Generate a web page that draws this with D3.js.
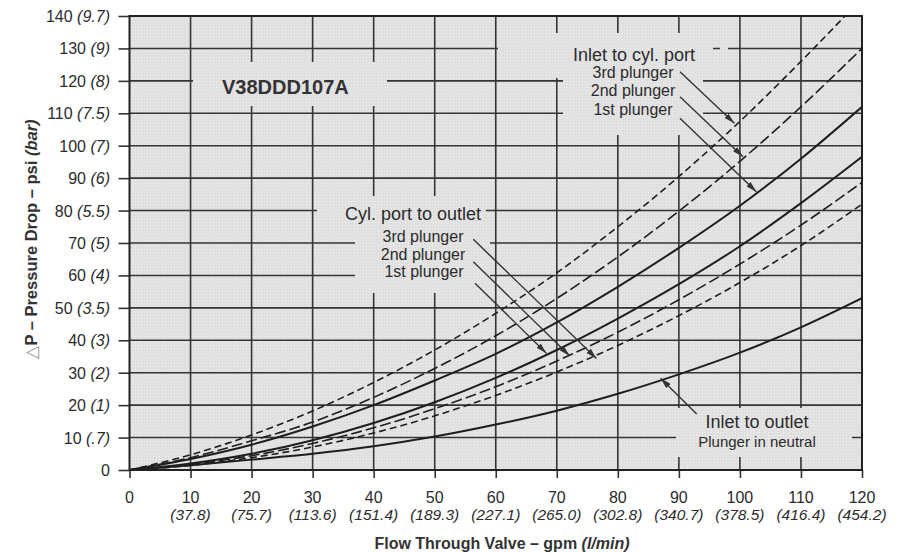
<!DOCTYPE html>
<html><head><meta charset="utf-8">
<script src="https://cdn.jsdelivr.net/npm/d3@7"></script>
<style>
html,body{margin:0;padding:0;background:#fff;}
svg{display:block;font-family:"Liberation Sans",Arial,Helvetica,sans-serif;}
</style></head><body>
<svg id="chart" width="904" height="552"></svg>
<script>
// ---------- data ----------
const flowGpm = [0,10,20,30,40,50,60,70,80,90,100,110,120];
const xTickValues = [0,10,20,30,40,50,60,70,80,90,100,110,120];
const xTickMetric = ["","(37.8)","(75.7)","(113.6)","(151.4)","(189.3)","(227.1)","(265.0)","(302.8)","(340.7)","(378.5)","(416.4)","(454.2)"];
const yTickValues = [0,10,20,30,40,50,60,70,80,90,100,110,120,130,140];
const yTickMetric = ["","(.7)","(1)","(2)","(3)","(3.5)","(4)","(5)","(5.5)","(6)","(7)","(7.5)","(8)","(9)","(9.7)"];

// Inlet to cyl. port
const inletCyl3rd = [0,4.7,10.8,18.2,27,37,48.3,60.8,75,90.5,107.5,126,145.5];
const inletCyl2nd = [0,3.8,9,14.8,22.4,31.3,41.4,52.9,65.7,79.8,95.2,112,130];
const inletCyl1st = [0,3.4,7.8,13.4,20,27.6,35.8,45.5,56.5,68.5,81.5,96,112];
// Cyl. port to outlet
const cylOut1st = [0,2,5,9.2,14.5,20.9,28.4,37,46.7,57.3,69,82.3,96.6];
const cylOut2nd = [0,1.7,4.4,8.2,13,18.9,25.7,33.6,42.5,52.5,63.5,75.5,88.7];
const cylOut3rd = [0,1.4,3.8,7.1,11.4,16.7,23,30.2,38.4,47.6,57.8,69.2,82];
// Inlet to outlet (plunger in neutral)
const inletOutlet = [0,1.5,3.2,5,7.3,10.3,14,18.3,23.5,29.5,36.2,44,53];

// ---------- drawing ----------
const svg = d3.select("#chart");
const x = d3.scaleLinear().domain([0,120]).range([129.5,862]);
const y = d3.scaleLinear().domain([0,140]).range([470,16]);
const ink = "#2b2b2b";
const bg = "#e0e0e0";

const defs = svg.append("defs");
defs.append("clipPath").attr("id","plot").append("rect")
  .attr("x",x(0)).attr("y",y(140)).attr("width",x(120)-x(0)).attr("height",y(0)-y(140));
const pat = defs.append("pattern").attr("id","dots").attr("patternUnits","userSpaceOnUse")
  .attr("width",3).attr("height",3);
pat.append("rect").attr("width",3).attr("height",3).attr("fill",bg);
pat.append("rect").attr("width",1).attr("height",1).attr("fill","#f0f0f0");
defs.append("marker").attr("id","arr").attr("markerUnits","userSpaceOnUse")
  .attr("viewBox","0 0 11 6").attr("refX",11).attr("refY",3)
  .attr("markerWidth",11).attr("markerHeight",6).attr("orient","auto")
  .append("path").attr("d","M0,0 L11,3 L0,6 Z").attr("fill","#333");

// plot background
svg.append("rect").attr("x",x(0)).attr("y",y(140))
  .attr("width",x(120)-x(0)).attr("height",y(0)-y(140)).attr("fill","url(#dots)");

// grid
const grid = svg.append("g").attr("stroke","#353535").attr("stroke-width",1.6);
grid.selectAll("line.h").data(yTickValues.filter(d=>d>0&&d<140)).join("line")
  .attr("x1",x(0)).attr("x2",x(120)).attr("y1",d=>y(d)).attr("y2",d=>y(d));
grid.selectAll("line.v").data(xTickValues.filter(d=>d>0&&d<120)).join("line")
  .attr("y1",y(140)).attr("y2",y(0)).attr("x1",d=>x(d)).attr("x2",d=>x(d));

// gaps in the grid behind the labels
const gaps = [
  [193,62,194,44],     // title
  [498,33,215,45],     // Inlet to cyl. port
  [720,33,8,45],
  [563,66,140,69],
  [317,196,169,32],    // Cyl. port to outlet
  [355,226,135,67],
  [676,408,176,49]     // Inlet to outlet
];
svg.append("g").selectAll("rect").data(gaps).join("rect")
  .attr("x",d=>d[0]).attr("y",d=>d[1]).attr("width",d=>d[2]).attr("height",d=>d[3])
  .attr("fill","url(#dots)");

// axes (ticks)
const xAxis = svg.append("g").attr("transform",`translate(0,${y(0)})`)
  .call(d3.axisBottom(x).tickValues(xTickValues).tickSize(8).tickSizeOuter(0).tickFormat(""));
xAxis.select(".domain").remove();
xAxis.selectAll(".tick line").attr("stroke","#333").attr("stroke-width",1.6);
const yAxis = svg.append("g").attr("transform",`translate(${x(0)},0)`)
  .call(d3.axisLeft(y).tickValues(yTickValues).tickSize(11).tickSizeOuter(0).tickFormat(""));
yAxis.select(".domain").remove();
yAxis.selectAll(".tick line").attr("stroke","#333").attr("stroke-width",1.6);

// frame
svg.append("rect").attr("x",x(0)).attr("y",y(140))
  .attr("width",x(120)-x(0)).attr("height",y(0)-y(140))
  .attr("fill","none").attr("stroke","#222").attr("stroke-width",2);

// tick labels
const xl = svg.append("g").attr("fill",ink).attr("text-anchor","middle");
xl.selectAll("text.n").data(xTickValues).join("text").attr("class","n")
  .attr("x",d=>x(d)).attr("y",503).attr("font-size",16).text(d=>d);
xl.selectAll("text.m").data(xTickValues).join("text").attr("class","m")
  .attr("x",d=>x(d)).attr("y",520).attr("font-size",15.5).attr("font-style","italic")
  .text((d,i)=>xTickMetric[i]);
const yl = svg.append("g").attr("fill",ink).attr("text-anchor","end").attr("font-size",16);
yl.selectAll("text").data(yTickValues).join("text")
  .attr("x",110).attr("y",d=>y(d)+6)
  .each(function(d,i){
    const t = d3.select(this);
    t.append("tspan").text(d);
    if (yTickMetric[i]) t.append("tspan").attr("font-style","italic").text(" " + yTickMetric[i]);
  });

// axis titles
const xt = svg.append("text").attr("x",502).attr("y",549).attr("text-anchor","middle")
  .attr("font-weight","bold").attr("font-size",16).attr("fill","#333");
xt.append("tspan").text("Flow Through Valve – gpm ");
xt.append("tspan").attr("font-style","italic").text("(l/min)");
const yt = svg.append("text").attr("transform","translate(37,239) rotate(-90)")
  .attr("text-anchor","middle").attr("font-weight","bold").attr("font-size",16.5).attr("fill","#333");
yt.append("tspan").attr("font-weight","normal").attr("fill","#999").text("△");
yt.append("tspan").text("P – Pressure Drop – psi ");
yt.append("tspan").attr("font-style","italic").text("(bar)");

// chart title
svg.append("text").attr("x",222).attr("y",94).attr("font-weight","bold")
  .attr("font-size",20).attr("fill","#333").text("V38DDD107A");

// curves
const series = [
  {v: inletCyl3rd, dash: "7,4", w: 1.6},
  {v: inletCyl2nd, dash: "11,4", w: 1.6},
  {v: inletCyl1st, dash: null, w: 2},
  {v: cylOut1st, dash: null, w: 2},
  {v: cylOut2nd, dash: "11,4", w: 1.6},
  {v: cylOut3rd, dash: "7,4", w: 1.6},
  {v: inletOutlet, dash: null, w: 2}
];
const line = d3.line().x((d,i)=>x(flowGpm[i])).y(d=>y(d)).curve(d3.curveMonotoneX);
svg.append("g").attr("clip-path","url(#plot)").selectAll("path").data(series).join("path")
  .attr("d",s=>line(s.v)).attr("fill","none").attr("stroke","#1e1e1e")
  .attr("stroke-width",s=>s.w).attr("stroke-dasharray",s=>s.dash);

// annotations
const ann = svg.append("g").attr("fill",ink).attr("text-anchor","middle");
const labels = [
  ["Inlet to cyl. port",634,61,18],["3rd plunger",633,77.5,16],["2nd plunger",633,96,16],["1st plunger",633,114.5,16],
  ["Cyl. port to outlet",413,220,18],["3rd plunger",423,241.7,16],["2nd plunger",423,260,16],["1st plunger",424,277.3,16],
  ["Inlet to outlet",757,428.3,18],["Plunger in neutral",757,446.7,15]
];
ann.selectAll("text").data(labels).join("text")
  .attr("x",d=>d[1]).attr("y",d=>d[2]).attr("font-size",d=>d[3]).text(d=>d[0]);

const leaders = [
  [680,71.7, 99.1,106.9],
  [680,96.7, 100.5,96.6],
  [680,118.3, 102.7,85.8],
  [473.3,239.3, 76.5,34.4],
  [473.3,261.7, 72.1,35.2],
  [475,283.3, 68.3,36],
  [696.7,414, 87,28.3]
];
svg.append("g").selectAll("line").data(leaders).join("line")
  .attr("x1",d=>d[0]).attr("y1",d=>d[1]).attr("x2",d=>x(d[2])).attr("y2",d=>y(d[3]))
  .attr("stroke","#333").attr("stroke-width",1.4).attr("marker-end","url(#arr)");
</script></body></html>
